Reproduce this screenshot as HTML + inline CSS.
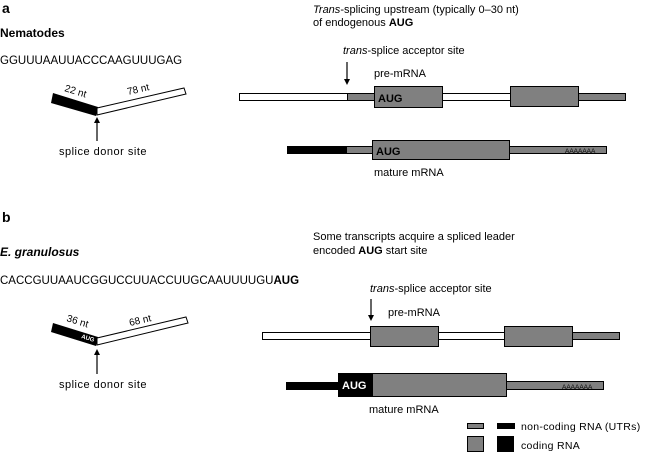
<!DOCTYPE html>
<html><head><meta charset="utf-8"><style>
html,body{margin:0;padding:0;background:#fff;}
svg{display:block;font-family:"Liberation Sans",Arial,sans-serif;}
</style></head><body>
<svg width="645" height="455" viewBox="0 0 645 455" xmlns="http://www.w3.org/2000/svg">
<g fill="#000" font-size="11">
<!-- Panel a -->
<text x="2" y="13" font-weight="bold" font-size="14">a</text>
<text x="0" y="37" font-weight="bold" font-size="12">Nematodes</text>
<text x="0" y="64" font-size="11.5">GGUUUAAUUACCCAAGUUUGAG</text>
<polygon points="53,93 98,107 96,116 51,103" fill="#000"/>
<polygon points="97,108 184,88 186,94 97,115" fill="#fff" stroke="#000" stroke-width="1"/>
<text x="0" y="0" font-size="10" transform="translate(64,91) rotate(17)">22 nt</text>
<text x="0" y="0" font-size="10" transform="translate(128,95) rotate(-13)">78 nt</text>
<line x1="97" y1="141" x2="97" y2="119" stroke="#000" stroke-width="1.2"/>
<path d="M94,123 L97,117 L100,123 Z"/>
<text x="59" y="155" font-size="11" letter-spacing="0.5">splice donor site</text>

<text x="313" y="13"><tspan font-style="italic">Trans</tspan>-splicing upstream (typically 0–30 nt)</text>
<text x="313" y="26">of endogenous <tspan font-weight="bold">AUG</tspan></text>
<text x="343" y="54" font-size="11"><tspan font-style="italic">trans</tspan>-splice acceptor site</text>
<line x1="347" y1="62" x2="347" y2="82" stroke="#000" stroke-width="1.2"/>
<path d="M344,79 L347,85 L350,79 Z"/>
<text x="374" y="77" font-size="11">pre-mRNA</text>
<rect x="239.5" y="93.5" width="108" height="7" fill="#fff" stroke="#000"/>
<rect x="347.5" y="93.5" width="27" height="7" fill="#808080" stroke="#000"/>
<rect x="374.5" y="86.5" width="68" height="21" fill="#808080" stroke="#000"/>
<text x="378" y="102" font-weight="bold" font-size="11">AUG</text>
<rect x="442.5" y="93.5" width="68" height="7" fill="#fff" stroke="#000"/>
<rect x="510.5" y="86.5" width="68" height="20" fill="#808080" stroke="#000"/>
<rect x="578.5" y="93.5" width="47" height="7" fill="#808080" stroke="#000"/>

<rect x="287" y="146" width="60" height="8" fill="#000"/>
<rect x="346.5" y="146.5" width="26" height="7" fill="#808080" stroke="#000"/>
<rect x="372.5" y="140.5" width="137" height="19" fill="#808080" stroke="#000"/>
<text x="376" y="155" font-weight="bold" font-size="11">AUG</text>
<rect x="509.5" y="146.5" width="97" height="7" fill="#808080" stroke="#000"/>
<text x="565" y="153" font-size="6.5">AAAAAAA</text>
<text x="374" y="176" font-size="11">mature mRNA</text>

<!-- Panel b -->
<text x="2" y="222" font-weight="bold" font-size="14">b</text>
<text x="0" y="256" font-weight="bold" font-style="italic" font-size="12">E. granulosus</text>
<text x="0" y="284" font-size="11.5">CACCGUUAAUCGGUCCUUACCUUGCAAUUUUGU<tspan font-weight="bold">AUG</tspan></text>
<polygon points="53,323 98,337 96,346 51,332" fill="#000"/>
<polygon points="97,338 186,317 188,323 97,345" fill="#fff" stroke="#000" stroke-width="1"/>
<text x="0" y="0" font-size="10" transform="translate(66,321) rotate(17)">36 nt</text>
<text x="0" y="0" font-size="10" transform="translate(130,326) rotate(-13)">68 nt</text>
<text x="0" y="0" font-size="6" font-weight="bold" fill="#fff" transform="translate(81,338) rotate(17)">AUG</text>
<line x1="97" y1="374" x2="97" y2="352" stroke="#000" stroke-width="1.2"/>
<path d="M94,355 L97,349 L100,355 Z"/>
<text x="59" y="388" font-size="11" letter-spacing="0.5">splice donor site</text>

<text x="313" y="240">Some transcripts acquire a spliced leader</text>
<text x="313" y="254">encoded <tspan font-weight="bold">AUG</tspan> start site</text>
<text x="370" y="292" font-size="11"><tspan font-style="italic">trans</tspan>-splice acceptor site</text>
<line x1="371" y1="299" x2="371" y2="318" stroke="#000" stroke-width="1.2"/>
<path d="M368,315 L371,321 L374,315 Z"/>
<text x="388" y="316" font-size="11">pre-mRNA</text>
<rect x="262.5" y="332.5" width="108" height="7" fill="#fff" stroke="#000"/>
<rect x="370.5" y="326.5" width="68" height="20" fill="#808080" stroke="#000"/>
<rect x="438.5" y="332.5" width="66" height="7" fill="#fff" stroke="#000"/>
<rect x="504.5" y="326.5" width="68" height="20" fill="#808080" stroke="#000"/>
<rect x="572.5" y="332.5" width="47" height="7" fill="#808080" stroke="#000"/>

<rect x="286" y="382" width="53" height="8" fill="#000"/>
<rect x="338" y="373" width="34" height="24" fill="#000"/>
<text x="342" y="389" font-weight="bold" font-size="11" fill="#fff">AUG</text>
<rect x="372.5" y="373.5" width="134" height="23" fill="#808080" stroke="#000"/>
<rect x="506.5" y="381.5" width="97" height="8" fill="#808080" stroke="#000"/>
<text x="562" y="389" font-size="6.5">AAAAAAA</text>
<text x="369" y="413" font-size="11">mature mRNA</text>

<!-- legend -->
<rect x="467.5" y="423.5" width="16" height="5" fill="#808080" stroke="#000"/>
<rect x="497" y="423" width="18" height="6" fill="#000"/>
<text x="521" y="430" font-size="10.5" letter-spacing="0.3">non-coding RNA (UTRs)</text>
<rect x="467.5" y="436.5" width="16" height="15" fill="#808080" stroke="#000"/>
<rect x="497" y="436" width="17" height="16" fill="#000"/>
<text x="521" y="449" font-size="10.5" letter-spacing="0.3">coding RNA</text>
</g>
</svg>
</body></html>
